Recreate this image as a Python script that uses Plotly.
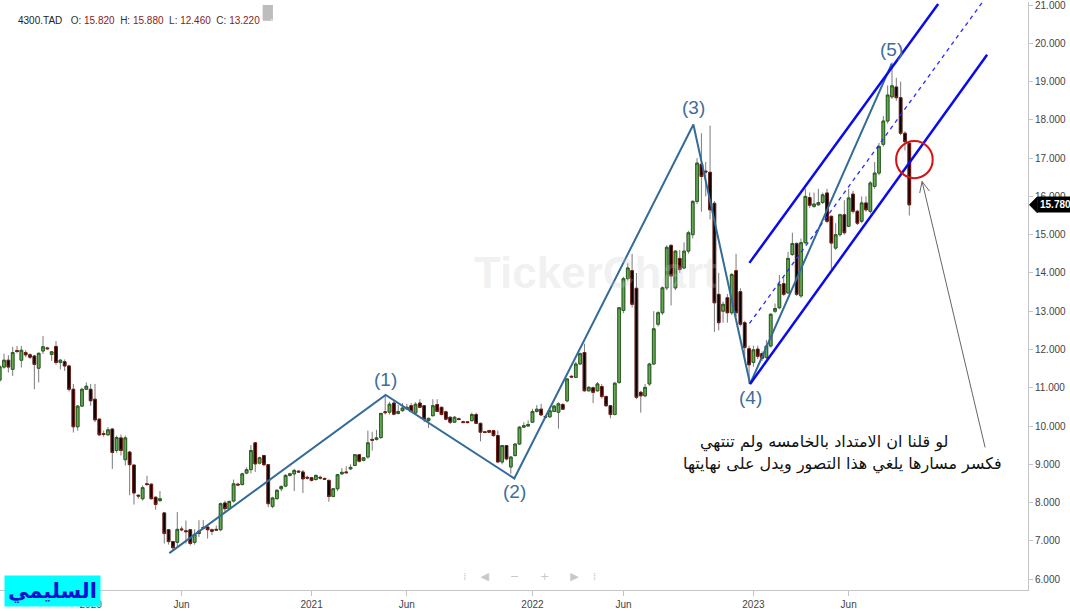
import plotly.graph_objects as go

# ---------------- data (weekly candles, 4300.TAD) ----------------
opens = [
    11.2, 11.54, 11.72, 11.48, 11.97, 11.72, 11.92, 11.86, 11.83, 11.51,
    11.96, 12.04, 11.87, 12.08, 11.66, 11.68, 11.57, 10.96, 9.98, 10.52,
    10.96, 10.96, 10.7, 10.18, 9.8, 9.77, 9.92, 9.36, 9.69, 9.12,
    9.32, 8.98, 8.19, 8.1, 8.49, 8.48, 8.14, 8.05, 7.73, 7.29,
    6.98, 6.96, 7.31, 7.26, 7.29, 6.96, 7.19, 7.35, 7.36, 7.29,
    7.3, 7.29, 7.99, 7.84, 8.04, 8.48, 8.47, 8.77, 8.86, 9.56,
    9.03, 9.23, 8.99, 7.9, 8.1, 8.36, 8.43, 8.71, 8.75, 8.82,
    8.8, 8.66, 8.65, 8.6, 8.66, 8.63, 8.58, 8.16, 8.36, 8.75,
    8.8, 8.88, 8.97, 9.25, 9.1, 9.19, 9.65, 9.65, 9.7, 10.37,
    10.36, 10.6, 10.33, 10.4, 10.45, 10.53, 10.34, 10.6, 10.53, 10.14,
    10.27, 10.56, 10.49, 10.37, 10.23, 10.1, 10.19, 10.11, 10.11, 10.14,
    10.3, 10.07, 9.85, 9.88, 9.88, 9.75, 9.06, 9.49, 8.93, 9.23,
    9.53, 9.97, 10.0, 10.1, 10.38, 10.44, 10.25, 10.24, 10.38, 10.36,
    10.56, 10.66, 11.3, 11.27, 11.62, 11.92, 10.92, 11.0, 10.92, 11.03,
    10.77, 10.53, 10.3, 11.14, 13.02, 13.85, 14.06, 13.6, 10.88, 10.79,
    11.1, 11.62, 12.66, 12.96, 13.61, 14.72, 13.61, 14.38, 14.13, 14.57,
    15.0, 15.87, 16.84, 16.66, 16.63, 15.82, 13.44, 13.0, 13.35, 12.96,
    14.06, 13.51, 12.7, 12.02, 11.66, 12.01, 11.89, 11.79, 12.09, 13.0,
    13.09, 13.72, 13.48, 14.48, 14.77, 13.4, 14.79, 15.97, 15.74, 15.78,
    15.84, 16.09, 15.48, 14.65, 15.0, 15.52, 15.22, 16.06, 15.61, 15.35,
    15.83, 15.61, 16.26, 16.61, 17.36, 17.97, 18.6, 18.86, 18.58, 17.65, 17.39,
]
highs = [
    11.6, 11.89, 11.85, 12.07, 12.09, 12.09, 11.98, 11.9, 11.86, 11.92,
    12.35, 12.07, 11.96, 12.22, 11.75, 11.74, 11.6, 11.1, 10.55, 11.0,
    11.14, 11.1, 11.1, 10.2, 9.88, 9.97, 9.95, 9.75, 9.78, 9.75,
    9.35, 9.0, 8.22, 8.45, 8.7, 8.5, 8.15, 8.3, 7.75, 7.3,
    7.0, 7.75, 7.38, 7.53, 7.3, 7.3, 7.54, 7.54, 7.4, 7.32,
    7.4, 8.0, 8.05, 8.05, 8.6, 8.52, 8.78, 8.92, 9.5, 9.58,
    9.2, 9.25, 9.0, 8.15, 8.35, 8.45, 8.74, 8.78, 8.88, 8.85,
    8.85, 8.7, 8.67, 8.73, 8.7, 8.65, 8.6, 8.38, 8.75, 8.9,
    8.95, 9.0, 9.25, 9.27, 9.18, 9.88, 9.85, 9.9, 10.33, 10.82,
    10.63, 10.65, 10.55, 10.6, 10.58, 10.6, 10.62, 10.7, 10.55, 10.22,
    10.7, 10.7, 10.5, 10.4, 10.25, 10.26, 10.22, 10.14, 10.13, 10.35,
    10.35, 10.09, 9.87, 9.9, 9.9, 9.88, 9.5, 9.5, 9.2, 9.55,
    10.0, 10.1, 10.15, 10.45, 10.55, 10.58, 10.28, 10.5, 10.55, 10.62,
    10.6, 11.25, 11.32, 11.68, 11.92, 12.15, 11.05, 11.03, 11.15, 11.1,
    10.8, 10.55, 11.14, 13.1, 13.9, 14.25, 14.5, 14.0, 10.92, 11.1,
    11.65, 13.0, 13.0, 13.65, 14.72, 14.75, 14.6, 14.6, 14.8, 15.1,
    15.9, 17.0, 17.65, 16.9, 17.85, 15.88, 14.0, 13.25, 13.45, 14.0,
    14.5, 13.6, 12.75, 12.1, 12.1, 12.1, 11.95, 12.25, 12.95, 13.2,
    13.95, 13.9, 14.55, 15.05, 14.8, 14.9, 16.2, 16.1, 16.1, 16.2,
    16.1, 16.2, 15.5, 15.3, 15.55, 15.9, 16.2, 16.15, 15.65, 16.0,
    16.0, 16.4, 16.9, 17.4, 18.1, 18.9, 19.5, 19.1, 19.0, 17.7, 17.45,
]
lows = [
    11.15, 11.5, 11.4, 11.31, 11.9, 11.53, 11.8, 11.75, 10.96, 11.14,
    11.88, 12.0, 11.7, 11.6, 11.48, 11.44, 10.9, 9.83, 9.88, 10.5,
    10.94, 10.53, 10.1, 9.74, 9.72, 9.75, 8.88, 9.3, 9.23, 8.97,
    8.19, 7.95, 8.1, 8.05, 8.45, 8.08, 7.81, 8.02, 6.93, 6.9,
    6.75, 6.84, 7.25, 6.93, 6.88, 6.9, 7.1, 7.3, 7.06, 7.15,
    7.26, 7.25, 7.75, 7.8, 8.0, 8.45, 8.45, 8.74, 8.76, 8.8,
    9.0, 8.95, 7.88, 7.85, 8.08, 8.3, 8.4, 8.68, 8.3, 8.78,
    8.25, 8.6, 8.55, 8.58, 8.6, 8.6, 8.02, 8.14, 8.3, 8.72,
    8.77, 8.85, 8.95, 9.05, 9.08, 9.15, 9.36, 9.62, 9.66, 10.3,
    10.3, 10.28, 10.3, 10.38, 10.43, 10.36, 10.32, 10.47, 10.1, 9.95,
    10.25, 10.36, 10.28, 10.15, 10.05, 10.08, 10.15, 10.08, 10.07, 10.12,
    10.05, 9.6, 9.82, 9.82, 9.72, 9.05, 9.0, 9.1, 8.75, 9.2,
    9.5, 9.95, 9.98, 10.08, 10.35, 10.27, 10.2, 10.22, 10.36, 9.93,
    10.42, 10.62, 11.26, 11.25, 11.6, 10.9, 10.9, 10.6, 10.9, 10.72,
    10.5, 10.2, 10.28, 11.1, 12.95, 13.8, 13.1, 10.7, 10.35, 10.75,
    11.05, 11.6, 12.6, 12.9, 13.55, 13.15, 13.55, 14.0, 14.1, 14.5,
    14.9, 15.8, 15.6, 16.0, 15.4, 12.46, 12.5, 12.7, 12.7, 12.9,
    12.85, 12.6, 11.7, 11.1, 11.55, 11.75, 11.7, 11.75, 12.05, 12.95,
    13.05, 13.4, 13.45, 14.45, 13.4, 13.35, 14.75, 15.7, 15.7, 15.75,
    15.8, 15.3, 14.1, 14.6, 14.95, 15.0, 15.2, 15.55, 15.25, 15.3,
    15.6, 15.55, 16.2, 16.55, 17.3, 17.9, 18.55, 18.5, 17.6, 17.2, 15.5,
]
closes = [
    11.55, 11.72, 11.54, 11.92, 11.95, 11.98, 11.86, 11.8, 11.61, 11.9,
    12.07, 12.02, 11.94, 11.66, 11.72, 11.57, 10.96, 9.98, 10.52, 10.96,
    11.04, 10.66, 10.16, 9.77, 9.78, 9.9, 9.31, 9.7, 9.36, 9.69,
    8.99, 8.25, 8.17, 8.39, 8.47, 8.1, 7.95, 8.1, 7.19, 6.98,
    6.82, 7.3, 7.29, 7.24, 6.93, 7.17, 7.25, 7.33, 7.29, 7.25,
    7.28, 7.97, 7.84, 8.03, 8.49, 8.46, 8.75, 8.86, 9.36, 9.01,
    9.17, 8.99, 7.97, 8.12, 8.32, 8.42, 8.71, 8.75, 8.84, 8.8,
    8.62, 8.64, 8.58, 8.71, 8.64, 8.61, 8.16, 8.36, 8.73, 8.79,
    8.78, 8.92, 9.25, 9.08, 9.17, 9.56, 9.63, 9.69, 10.33, 10.35,
    10.57, 10.31, 10.38, 10.47, 10.49, 10.38, 10.57, 10.49, 10.18, 10.2,
    10.53, 10.38, 10.3, 10.18, 10.1, 10.23, 10.17, 10.09, 10.09, 10.3,
    10.07, 9.84, 9.83, 9.84, 9.75, 9.06, 9.49, 9.14, 9.19, 9.53,
    9.97, 10.01, 10.04, 10.38, 10.44, 10.29, 10.23, 10.4, 10.52, 10.58,
    10.44, 11.23, 11.28, 11.62, 11.89, 10.92, 11.01, 10.88, 11.1, 10.77,
    10.53, 10.3, 11.12, 13.09, 13.85, 14.13, 13.18, 10.75, 10.79, 11.01,
    11.62, 12.54, 12.96, 13.61, 14.67, 13.92, 14.57, 14.09, 14.57, 15.05,
    15.87, 16.87, 16.52, 16.64, 15.65, 13.22, 12.7, 13.18, 12.96, 13.96,
    12.96, 12.66, 12.05, 11.6, 11.99, 11.82, 11.77, 12.09, 12.92, 13.07,
    13.7, 13.44, 14.38, 14.77, 13.44, 14.79, 16.0, 15.77, 15.8, 15.84,
    16.04, 15.35, 14.78, 15.0, 15.52, 15.05, 15.96, 15.61, 15.3, 15.83,
    15.65, 16.35, 16.61, 17.3, 17.97, 18.65, 18.89, 18.58, 17.65, 17.43, 15.78,
]
weeks = list(range(len(closes)))

tick_weeks = [21, 42, 72, 94, 123, 144, 174, 196]
tick_labels = ["2020", "Jun", "2021", "Jun", "2022", "Jun", "2023", "Jun"]

# Elliott wave pivots (week index, price) and labels
wave_weeks = [39.16, 89.1, 118.8, 160.15, 173.24, 205.95]
wave_prices = [6.68, 10.81, 8.63, 17.88, 11.10, 19.47]
wave_names = ["", "(1)", "(2)", "(3)", "(4)", "(5)"]
wave_label_prices = [None, 11.21, 8.29, 18.32, 10.74, 19.85]

last_price = closes[-1]

body_hi = [max(o, c) for o, c in zip(opens, closes)]
body_lo = [min(o, c) for o, c in zip(opens, closes)]

fig = go.Figure()

# wicks (grey)
fig.add_trace(go.Candlestick(
    x=weeks, open=opens, high=highs, low=lows, close=closes,
    increasing=dict(line=dict(color="#7a7a7a", width=1), fillcolor="#5fa84f"),
    decreasing=dict(line=dict(color="#7a7a7a", width=1), fillcolor="#000000"),
    hoverinfo="skip", showlegend=False,
))
# bodies with coloured outlines
fig.add_trace(go.Candlestick(
    x=weeks, open=opens, high=body_hi, low=body_lo, close=closes,
    increasing=dict(line=dict(color="#2b5e22", width=1), fillcolor="#62ab52"),
    decreasing=dict(line=dict(color="#7a1c14", width=1), fillcolor="#000000"),
    showlegend=False,
))

# wave lines
fig.add_trace(go.Scatter(
    x=wave_weeks, y=wave_prices,
    mode="lines", line=dict(color="#336b99", width=2), hoverinfo="skip", showlegend=False,
))

shapes = []
# channel: upper, lower, dashed median
shapes.append(dict(type="line", xref="x", yref="y", x0=173.08, y0=14.263, x1=216.66, y1=21.03,
                   line=dict(color="#0a0aee", width=2.5)))
shapes.append(dict(type="line", xref="x", yref="y", x0=173.24, y0=11.10, x1=227.96, y1=19.70,
                   line=dict(color="#0a0aee", width=2.5)))
shapes.append(dict(type="line", xref="x", yref="y", x0=173.1, y0=12.68, x1=226.9, y1=21.08,
                   line=dict(color="#2a2aff", width=1.3, dash="4px,4px")))
# red circle
shapes.append(dict(type="circle", xref="x", yref="y", x0=206.95, x1=215.4, y0=16.477, y1=17.445,
                   line=dict(color="#d21414", width=2)))
# arrow line + open head
shapes.append(dict(type="line", xref="x", yref="y", x0=227.5, y0=9.44, x1=212.95, y1=16.39,
                   line=dict(color="#666666", width=1)))
shapes.append(dict(type="path", xref="x", yref="y",
                   path="M 212.4,16.09 L 212.95,16.39 L 214.65,16.14",
                   line=dict(color="#666666", width=1)))
# pointer of the last price tag
shapes.append(dict(type="path", xref="paper", yref="y",
                   path="M 1.0015,15.78 L 1.0090,15.985 L 1.0090,15.575 Z",
                   fillcolor="#000000", line=dict(color="#000000", width=1)))
# small header menu box
shapes.append(dict(type="rect", xref="paper", yref="paper", x0=0.2555, x1=0.2655, y0=0.968, y1=0.995,
                   fillcolor="#bdbdbd", line=dict(width=0)))

annotations = []
for wx, name, lp in zip(wave_weeks, wave_names, wave_label_prices):
    if name:
        annotations.append(dict(x=wx, y=lp, xref="x", yref="y", text=name, showarrow=False,
                                font=dict(family="Liberation Sans, Arial", size=19, color="#3d6e99")))

annotations += [
    dict(x=190.3, y=9.59, xref="x", yref="y", showarrow=False,
         text="لو قلنا ان الامتداد بالخامسه ولم تنتهي",
         font=dict(family="DejaVu Sans, Arial", size=16, color="#111111")),
    dict(x=194.5, y=9.02, xref="x", yref="y", showarrow=False,
         text="فكسر مسارها يلغي هذا التصور ويدل على نهايتها",
         font=dict(family="DejaVu Sans, Arial", size=16, color="#111111")),
    dict(x=1.0087, y=last_price, xref="paper", yref="y", xanchor="left", yanchor="middle",
         showarrow=False, bgcolor="#000000", borderpad=2,
         text=f"<b>{last_price:.3f}</b>",
         font=dict(family="Liberation Sans, Arial", size=10, color="#ffffff")),
    dict(x=0.0155, y=0.9815, xref="paper", yref="paper", xanchor="left", showarrow=False,
         text=("<span style='color:#222'>4300.TAD</span>&nbsp;&nbsp;&nbsp;"
               "<span style='color:#333'>O:</span> <span style='color:#8b1a1a'>15.820</span>&nbsp;&nbsp;"
               "<span style='color:#333'>H:</span> <span style='color:#8b1a1a'>15.880</span>&nbsp;&nbsp;"
               "<span style='color:#333'>L:</span> <span style='color:#8b1a1a'>12.460</span>&nbsp;&nbsp;"
               "<span style='color:#333'>C:</span> <span style='color:#8b1a1a'>13.220</span>"),
         font=dict(family="Liberation Sans, Arial", size=10)),
    dict(x=0.2605, y=0.9835, xref="paper", yref="paper", showarrow=False, text="···",
         font=dict(family="Liberation Sans", size=10, color="#ffffff")),
    dict(x=0.58, y=0.54, xref="paper", yref="paper", showarrow=False, text="<b>TickerChart</b>",
         font=dict(family="Liberation Sans, Arial", size=44, color="rgba(200,200,200,0.25)")),
    dict(x=0.004, y=-0.0015, xref="paper", yref="paper", xanchor="left", yanchor="middle",
         showarrow=False, text="<b>السليمي</b>", bgcolor="#00ffff", borderpad=3,
         font=dict(family="DejaVu Sans, Arial", size=21, color="#1010d0")),
    dict(x=0.515, y=0.0235, xref="paper", yref="paper", yanchor="middle", showarrow=False,
         text=("⁞&nbsp;&nbsp;&nbsp;&nbsp;◀&nbsp;&nbsp;&nbsp;&nbsp;&nbsp;&nbsp;−&nbsp;&nbsp;&nbsp;&nbsp;&nbsp;&nbsp;"
               "+&nbsp;&nbsp;&nbsp;&nbsp;&nbsp;&nbsp;▶&nbsp;&nbsp;&nbsp;&nbsp;⁞"),
         font=dict(family="DejaVu Sans", size=11, color="#c8c8c8")),
]

fig.update_layout(
    width=1070, height=611,
    margin=dict(l=0, r=42, t=0, b=21),
    paper_bgcolor="#ffffff", plot_bgcolor="#ffffff",
    boxgap=0.12,
    showlegend=False,
    hovermode=False,
    shapes=shapes,
    annotations=annotations,
    xaxis=dict(
        range=[0.07, 237.4], rangeslider=dict(visible=False),
        tickvals=tick_weeks, ticktext=tick_labels,
        showgrid=False, zeroline=False,
        showline=True, linecolor="#c4c4c4", linewidth=1,
        ticks="outside", ticklen=5, tickcolor="#c4c4c4",
        tickfont=dict(family="Liberation Sans Narrow, Liberation Sans", size=10, color="#444444"),
    ),
    yaxis=dict(
        side="right", range=[5.715, 21.08], dtick=1, tick0=6, tickformat=".3f",
        showgrid=False, zeroline=False,
        showline=True, linecolor="#c4c4c4", linewidth=1,
        ticks="outside", ticklen=4, tickcolor="#c4c4c4",
        ticklabeloverflow="allow",
        tickfont=dict(family="Liberation Sans, Arial", size=10, color="#444444"),
    ),
)

fig.write_html(
    "out.html",
    config={"displayModeBar": False},
    post_script="document.body.style.margin='0px';document.body.style.overflow='hidden';",
)
